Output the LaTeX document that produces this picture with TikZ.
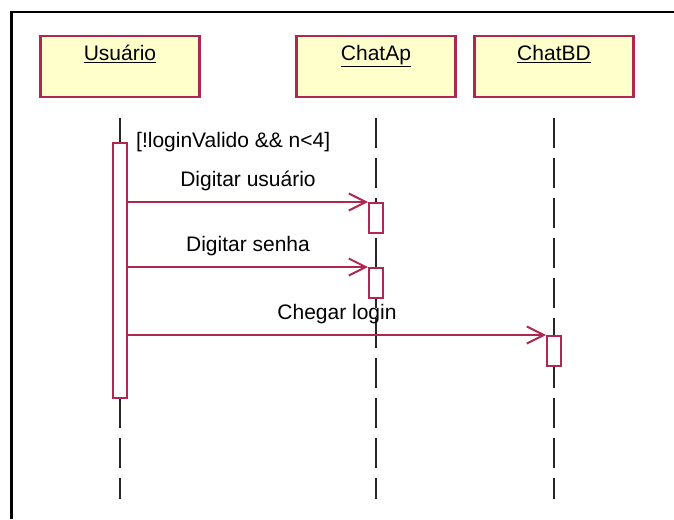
\documentclass[tikz,border=0pt]{standalone}
\usepackage{fontspec}
\setmainfont{Liberation Sans}
\usetikzlibrary{arrows.meta,positioning}
\definecolor{umlred}{RGB}{176,40,80}
\definecolor{umlyellow}{RGB}{255,255,204}

\begin{document}
\begin{tikzpicture}[x=1pt, y=-1pt,
  font=\fontsize{21}{25}\selectfont,
  objbox/.style={draw=umlred, line width=2.5pt, fill=umlyellow, minimum width=159pt, minimum height=61pt, inner sep=0pt},
  objname/.style={anchor=base, inner sep=0pt},
  lifeline/.style={draw=black!85, line width=2pt, dash pattern=on 30pt off 10pt},
  activation/.style={draw=umlred, line width=2pt, fill=white, minimum width=14pt, inner sep=0pt},
  msg/.style={draw=umlred, line width=2pt, -{Straight Barb[length=17pt, width=17pt, line width=2pt]}},
  msglabel/.style={anchor=base, inner sep=0pt, yshift=16pt}]
\useasboundingbox (0,0) rectangle (674,519);
\draw[line width=2.5pt] (674,12) -- (11.5,12) -- (11.5,519);

% objects
\node[objbox] (usuario) at (120,66.5) {};
\node[objbox] (chatap) at (376,66.5) {};
\node[objbox] (chatbd) at (554,66.5) {};
\node[objname] (usuarioname) at ([yshift=-26pt]usuario.north) {\underline{Usuário}};
\node[objname] (chatapname) at ([yshift=-26pt]chatap.north) {\underline{ChatAp}};
\node[objname] (chatbdname) at ([yshift=-26pt]chatbd.north) {\underline{ChatBD}};

% lifelines
\coordinate (lifetop) at (0,118);
\coordinate (lifeend) at (0,499);
\draw[lifeline] (usuario |- lifetop) -- (usuario |- lifeend);
\draw[lifeline] (chatap |- lifetop) -- (chatap |- lifeend);
\draw[lifeline] (chatbd |- lifetop) -- (chatbd |- lifeend);

% activations
\node[activation, minimum height=255pt] (useract) at (120,270.5) {};
\node[activation, minimum height=30pt] (apact1) at (376,218) {};
\node[activation, minimum height=30pt] (apact2) at (376,283) {};
\node[activation, minimum height=30pt] (bdact) at (554,351) {};

\node[anchor=base west, inner sep=0pt] (guard) at ([xshift=8pt, yshift=-5pt]useract.north east) {[!loginValido \&\& n<4]};

% messages
\draw[msg] (useract.east |- apact1.north) -- node[msglabel] (digusuario) {Digitar usuário} (apact1.north west);
\draw[msg] (useract.east |- apact2.north) -- node[msglabel] (digsenha) {Digitar senha} (apact2.north west);
\draw[msg] (useract.east |- bdact.north) -- node[msglabel] (chelogin) {Chegar login} (bdact.north west);
\end{tikzpicture}
\end{document}
